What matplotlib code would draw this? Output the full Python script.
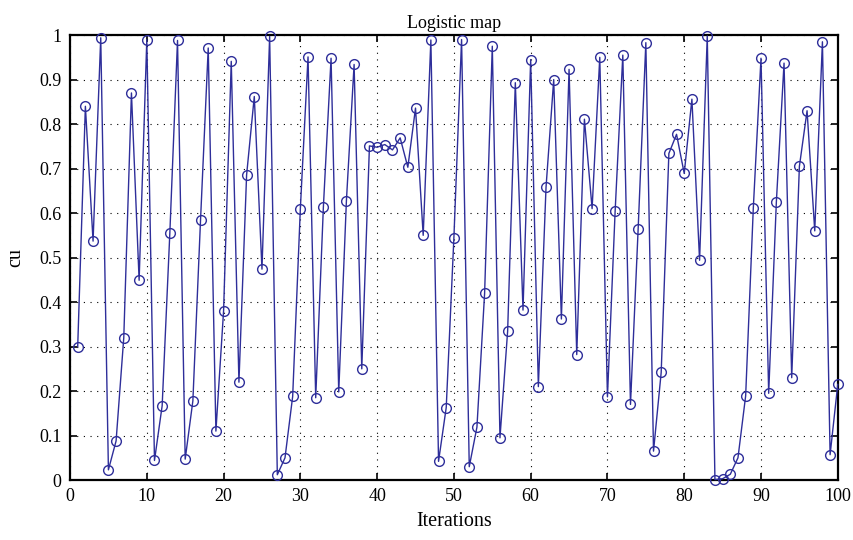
import matplotlib
matplotlib.use('Agg')
import matplotlib.pyplot as plt
import numpy as np

iterations = list(range(1, 101))
cu = [0.300, 0.840, 0.537, 0.994, 0.023, 0.088, 0.320, 0.870, 0.449, 0.990,
      0.044, 0.167, 0.555, 0.988, 0.047, 0.178, 0.585, 0.971, 0.110, 0.380,
      0.941, 0.220, 0.686, 0.862, 0.474, 0.997, 0.012, 0.050, 0.188, 0.610,
      0.951, 0.185, 0.614, 0.948, 0.198, 0.628, 0.934, 0.250, 0.751, 0.748,
      0.754, 0.742, 0.769, 0.703, 0.836, 0.550, 0.989, 0.042, 0.163, 0.545,
      0.990, 0.030, 0.119, 0.420, 0.975, 0.095, 0.335, 0.893, 0.382, 0.945,
      0.210, 0.658, 0.900, 0.362, 0.923, 0.282, 0.811, 0.610, 0.950, 0.187,
      0.604, 0.955, 0.170, 0.565, 0.983, 0.065, 0.242, 0.734, 0.777, 0.689,
      0.856, 0.494, 0.998, 0.001, 0.003, 0.013, 0.050, 0.189, 0.612, 0.948,
      0.195, 0.625, 0.937, 0.230, 0.705, 0.830, 0.560, 0.985, 0.057, 0.215]

xticks = list(range(0, 101, 10))
yticks = [i / 10 for i in range(11)]
ytick_labels = ['0', '0.1', '0.2', '0.3', '0.4', '0.5', '0.6', '0.7', '0.8', '0.9', '1']

plt.rcParams['font.family'] = ['Liberation Serif', 'DejaVu Serif']

fig = plt.figure(figsize=(8.54, 5.4), dpi=100)
ax = fig.add_axes([0.082, 0.111, 0.899, 0.824])

ax.plot(iterations, cu, color='#2e2e9a', linewidth=1.0, marker='o',
        markersize=7, markerfacecolor='none', markeredgecolor='#2e2e9a',
        markeredgewidth=1.0, clip_on=False, zorder=3)

ax.set_xlim(0, 100)
ax.set_ylim(0, 1)
ax.set_xticks(xticks)
ax.set_yticks(yticks)
ax.set_yticklabels(ytick_labels)
ax.tick_params(direction='in', top=True, right=True, length=5, width=1.2,
               labelsize=13, pad=6)
ax.grid(True, linestyle=(0, (1, 5)), color='black', linewidth=0.8)
for s in ax.spines.values():
    s.set_linewidth(1.6)

ax.set_title('Logistic map', fontsize=13, pad=5)
ax.set_xlabel('Iterations', fontsize=14.5, labelpad=5)
ax.set_ylabel('cu', fontsize=14.5, labelpad=10)

fig.savefig('out.png', dpi=100)
